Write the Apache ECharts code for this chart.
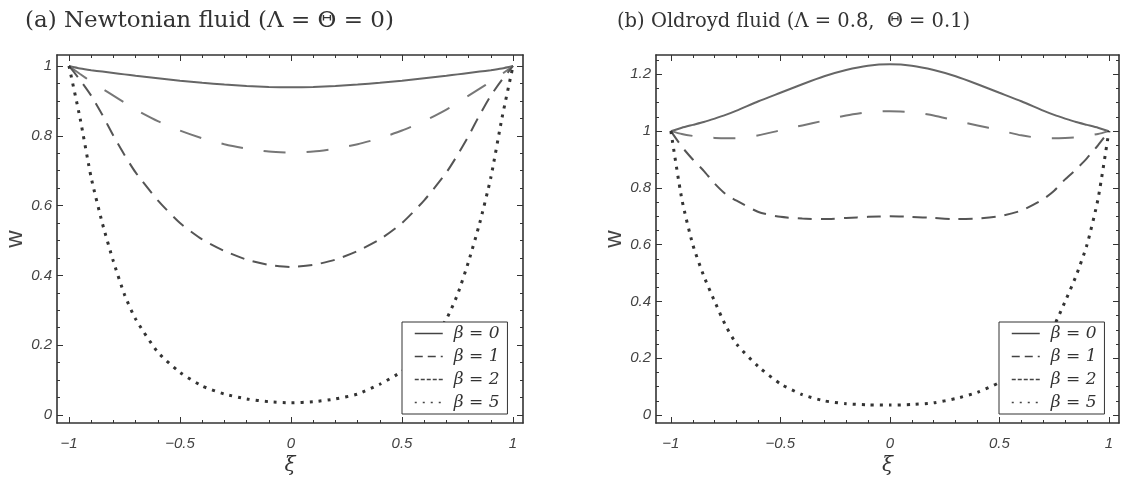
<!DOCTYPE html>
<html>
<head>
<meta charset="utf-8">
<title>Newtonian vs Oldroyd fluid</title>
<script src="https://cdn.jsdelivr.net/npm/echarts@6/dist/echarts.min.js"></script>
<style>
  html, body { margin: 0; padding: 0; background: #fff; }
  #chart { width: 1121px; height: 481px; }
</style>
</head>
<body>
<div id="chart"></div>
<script>
// sample positions along xi (same for every curve)
const XI = [-1, -0.95, -0.9, -0.85, -0.8, -0.75, -0.7, -0.6, -0.5, -0.4, -0.3, -0.2, -0.1, 0,
            0.1, 0.2, 0.3, 0.4, 0.5, 0.6, 0.7, 0.75, 0.8, 0.85, 0.9, 0.95, 1];

// (a) Newtonian fluid
const NEWT_B0 = [1, 0.993, 0.988, 0.984, 0.98, 0.976, 0.972, 0.965, 0.958, 0.952, 0.947, 0.943, 0.94, 0.939,
                 0.94, 0.943, 0.947, 0.952, 0.958, 0.965, 0.972, 0.976, 0.98, 0.984, 0.988, 0.993, 1];
const NEWT_B1 = [1, 0.977, 0.955, 0.935, 0.915, 0.895, 0.875, 0.842, 0.815, 0.793, 0.776, 0.763, 0.755, 0.752,
                 0.755, 0.763, 0.776, 0.793, 0.815, 0.842, 0.875, 0.895, 0.915, 0.935, 0.955, 0.977, 1];
const NEWT_B2 = [1, 0.96, 0.915, 0.86, 0.8, 0.745, 0.695, 0.615, 0.55, 0.503, 0.47, 0.445, 0.43, 0.424,
                 0.43, 0.445, 0.47, 0.503, 0.55, 0.615, 0.695, 0.745, 0.8, 0.86, 0.915, 0.96, 1];
const NEWT_B5 = [1, 0.85, 0.68, 0.55, 0.44, 0.345, 0.275, 0.18, 0.122, 0.083, 0.06, 0.046, 0.038, 0.035,
                 0.038, 0.046, 0.06, 0.088, 0.125, 0.18, 0.275, 0.345, 0.44, 0.55, 0.68, 0.85, 1];

// (b) Oldroyd fluid
const OLD_B0 = [1, 1.012, 1.022, 1.032, 1.044, 1.057, 1.072, 1.105, 1.135, 1.165, 1.193, 1.215, 1.23, 1.235,
                1.23, 1.215, 1.193, 1.165, 1.135, 1.105, 1.072, 1.057, 1.044, 1.032, 1.022, 1.012, 1];
const OLD_B1 = [1, 0.99, 0.983, 0.978, 0.976, 0.975, 0.975, 0.985, 1.003, 1.02, 1.037, 1.055, 1.067, 1.07,
                1.067, 1.055, 1.037, 1.02, 1.003, 0.985, 0.975, 0.975, 0.976, 0.978, 0.983, 0.99, 1];
const OLD_B2 = [1, 0.945, 0.9, 0.86, 0.815, 0.778, 0.755, 0.715, 0.698, 0.692, 0.69, 0.694, 0.698, 0.7,
                0.698, 0.694, 0.69, 0.692, 0.7, 0.72, 0.76, 0.79, 0.83, 0.865, 0.905, 0.95, 1];
const OLD_B5 = [1, 0.76, 0.6, 0.49, 0.4, 0.315, 0.25, 0.17, 0.11, 0.072, 0.05, 0.04, 0.036, 0.035,
                0.037, 0.043, 0.058, 0.08, 0.115, 0.17, 0.25, 0.315, 0.4, 0.49, 0.6, 0.76, 1];

const NAMES = ['β = 0', 'β = 1', 'β = 2', 'β = 5'];
const TITLES = ['(a) Newtonian fluid (Λ = Θ = 0)', '(b) Oldroyd fluid (Λ = 0.8,  Θ = 0.1)'];

// tick labels
const X_MAJOR = [-1, -0.5, 0, 0.5, 1];
const Y_MAJOR_A = [0, 0.2, 0.4, 0.6, 0.8, 1];
const Y_MAJOR_B = [0, 0.2, 0.4, 0.6, 0.8, 1, 1.2];

function steps(a, b, s) {
  const out = [];
  for (let v = a; v <= b + 1e-9; v += s) out.push(+v.toFixed(3));
  return out;
}
const X_MINOR = steps(-1, 1, 0.1);
const Y_MINOR_A = steps(0, 1, 0.05);
const Y_MINOR_B = steps(0, 1.25, 0.05);

const ink = '#333';
const fmt = v => String(v).replace('-', '\u2212');
const tickFont = { fontFamily: 'Liberation Sans', fontStyle: 'italic', fontSize: 15, color: '#444' };

function frameAxes(dim, grid, min, max, major, minor, name) {
  const sides = dim === 'x' ? ['bottom', 'top'] : ['left', 'right'];
  const axes = [];
  sides.forEach((pos, i) => {
    const base = { type: 'value', gridIndex: grid, position: pos, min, max, splitLine: { show: false } };
    const main = Object.assign({}, base, {
      axisLine: { show: true, onZero: false, lineStyle: { color: ink, width: 1.6 } },
      axisTick: { show: true, inside: true, length: 6, customValues: major, lineStyle: { color: ink, width: 1 } },
      axisLabel: i === 0
        ? Object.assign({ show: true, customValues: major, formatter: fmt, margin: dim === 'x' ? 13 : 5 }, tickFont)
        : { show: false }
    });
    if (i === 0) {
      main.name = name;
      main.nameLocation = 'middle';
      if (dim === 'x') {
        main.nameGap = 33;
        main.nameTextStyle = { fontFamily: 'DejaVu Serif', fontStyle: 'italic', fontSize: 20, color: ink };
      } else {
        main.nameGap = 30;
        main.nameRotate = 90;
        main.nameTextStyle = { fontFamily: 'Liberation Sans', fontSize: 24, color: '#444' };
      }
    }
    axes.push(main);
    axes.push(Object.assign({}, base, {
      axisLine: { show: false, onZero: false },
      axisTick: { show: true, inside: true, length: 3, customValues: minor, lineStyle: { color: ink, width: 1 } },
      axisLabel: { show: false }
    }));
  });
  return axes;
}

const STYLES = [
  { color: '#666', width: 2, type: 'solid' },
  { color: '#777', width: 2, type: [22, 21] },
  { color: '#555', width: 2, type: [14, 9] },
  { color: '#333', width: 3, type: [3, 6] }
];
// compressed dash patterns used for the legend samples
const LEGEND_DASH = ['solid', [8, 5], [4, 2], [2, 6]];

function makeSeries(grid, sets) {
  return sets.map((vals, k) => ({
    name: NAMES[k],
    type: 'line',
    xAxisIndex: grid * 4,
    yAxisIndex: grid * 4,
    data: XI.map((x, i) => [x, vals[i]]),
    smooth: 0.2,
    symbol: 'none',
    silent: true,
    lineStyle: STYLES[k],
    itemStyle: { color: STYLES[k].color },
    z: 3
  }));
}

function makeLegend(left) {
  return {
    orient: 'vertical',
    left: left, top: 322,
    width: 112,
    data: NAMES.map((n, k) => ({
      name: n,
      itemStyle: { opacity: 0 },
      lineStyle: { type: LEGEND_DASH[k], width: 1.5, color: '#444' }
    })),
    backgroundColor: '#fff',
    borderColor: ink, borderWidth: 1,
    padding: [3, 8, 3, 12],
    itemGap: 6,
    itemWidth: 28, itemHeight: 14,
    textStyle: { fontFamily: 'DejaVu Serif', fontStyle: 'italic', fontSize: 17, color: ink, padding: [0, 0, 0, 6] },
    selectedMode: false
  };
}

const titleStyle = { fontFamily: 'DejaVu Serif', fontWeight: 'normal', fontSize: 23, color: ink };

const chart = echarts.init(document.getElementById('chart'), null, { renderer: 'canvas' });

chart.setOption({
  animation: false,
  backgroundColor: '#fff',
  title: [
    { text: TITLES[0], left: 20, top: 5, textStyle: titleStyle },
    { text: TITLES[1], left: 612, top: 7, textStyle: Object.assign({}, titleStyle, { fontSize: 19.5 }) }
  ],
  grid: [
    { left: 57, top: 55, width: 466, height: 368 },
    { left: 656, top: 55, width: 463, height: 368 }
  ],
  xAxis: [
    ...frameAxes('x', 0, -1.054, 1.045, X_MAJOR, X_MINOR, 'ξ'),
    ...frameAxes('x', 1, -1.068, 1.046, X_MAJOR, X_MINOR, 'ξ')
  ],
  yAxis: [
    ...frameAxes('y', 0, -0.023, 1.0315, Y_MAJOR_A, Y_MINOR_A, 'w'),
    ...frameAxes('y', 1, -0.028, 1.268, Y_MAJOR_B, Y_MINOR_B, 'w')
  ],
  legend: [makeLegend(402), makeLegend(999)],
  series: [
    ...makeSeries(0, [NEWT_B0, NEWT_B1, NEWT_B2, NEWT_B5]),
    ...makeSeries(1, [OLD_B0, OLD_B1, OLD_B2, OLD_B5])
  ]
});

window.addEventListener('resize', () => chart.resize());
</script>
</body>
</html>
